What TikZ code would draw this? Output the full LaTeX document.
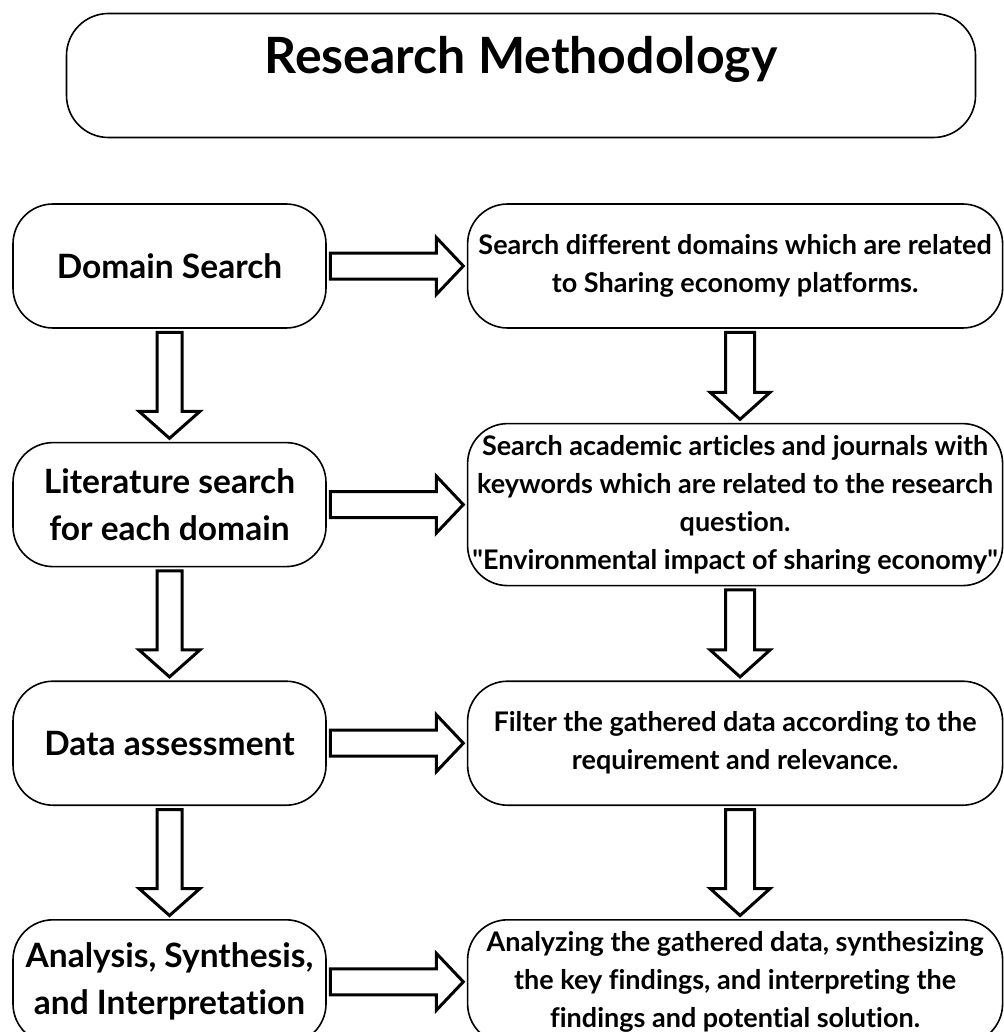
\documentclass[tikz,border=0pt]{standalone}
\usepackage{fontspec}
\setmainfont{Lato}[Ligatures=NoCommon]
\usetikzlibrary{positioning, calc}

% hollow block arrow from #1 to #2, shaft half width #3, head half width #4
\newcommand{\blockarrow}[4]{%
  \coordinate (as) at ($(#1)!3.5pt!(#2)$);
  \coordinate (at) at ($(#2)!3.5pt!(#1)$);
  \coordinate (hb) at ($(at)!27pt!(as)$);
  \draw[fat] ($(as)!#3!90:(at)$) -- ($(hb)!#3!-90:(as)$) -- ($(hb)!#4!-90:(as)$) -- (at)
    -- ($(hb)!#4!90:(as)$) -- ($(hb)!#3!90:(as)$) -- ($(as)!#3!-90:(at)$) -- cycle;}

\begin{document}
\begin{tikzpicture}[x=1pt, y=-1pt,
      node distance=113pt and 140pt,
      box/.style = {draw, line width=1.6pt, rounded corners=40pt, align=center, inner sep=0pt},
      lbox/.style = {box, minimum width=313pt, minimum height=124pt, font=\bfseries\fontsize{33.5}{47}\selectfont},
      rbox/.style = {box, minimum width=535pt, minimum height=124pt, font=\bfseries\fontsize{27}{38}\selectfont},
      fat/.style = {draw, fill=white, line width=3pt} ]
    \useasboundingbox (0,0) rectangle (1003,1032);
    \node[box, minimum width=909pt, minimum height=124pt, rounded corners=42pt, text height=35pt, text depth=38pt,
          font=\bfseries\fontsize{50}{56}\selectfont] (title) at (521,75.5) {Research Methodology};

    \node[lbox] (dom) at (169.5,266) {Domain Search};
    \node[lbox, below=of dom] (lit) {Literature search\\for each domain};
    \node[lbox, below=of lit] (dat) {Data assessment};
    \node[lbox, below=of dat] (ana) {Analysis, Synthesis,\\and Interpretation};

    \node[rbox, right=of dom] (sdom) {Search different domains which are related\\to Sharing economy platforms.};
    \node[rbox, right=of lit, minimum height=162pt] (sart) {Search academic articles and journals with\\keywords which are related to the research\\question.\\\textquotedbl Environmental impact of sharing economy\textquotedbl};
    \node[rbox, right=of dat] (filt) {Filter the gathered data according to the\\requirement and relevance.};
    \node[rbox, right=of ana] (synth) {Analyzing the gathered data, synthesizing\\the key findings, and interpreting the\\findings and potential solution.};

    \foreach \a/\b in {dom/sdom, lit/sart, dat/filt, ana/synth}
      \blockarrow{\a.east}{\b.west}{13pt}{28.5pt};
    \foreach \a/\b in {dom/lit, lit/dat, dat/ana}
      \blockarrow{\a.south}{\b.north}{12.5pt}{30.5pt};
    \foreach \a/\b in {sdom/sart, sart/filt, filt/synth} {
      \coordinate (\a-o) at ([xshift=5pt]\a.south);
      \coordinate (\b-i) at ([xshift=5pt]\b.north);
      \blockarrow{\a-o}{\b-i}{14.5pt}{30pt};
    }
  \end{tikzpicture}
\end{document}
